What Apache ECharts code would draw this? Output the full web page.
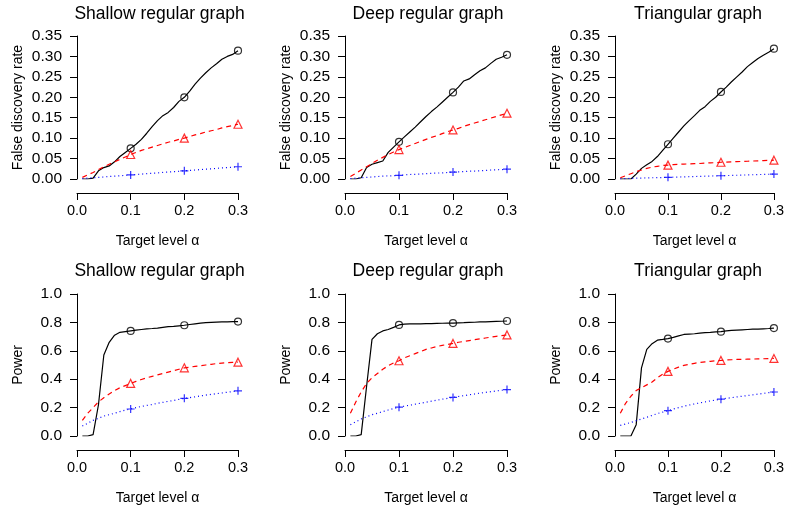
<!DOCTYPE html>
<html>
<head>
<meta charset="utf-8">
<script src="https://cdn.jsdelivr.net/npm/echarts@6/dist/echarts.min.js"></script>
<style>html,body{margin:0;padding:0;background:#fff}#c{width:787px;height:513px}</style>
</head>
<body>
<div id="c"></div>
<script>
// Target level alpha
const alpha = [0.01,0.02,0.03,0.04,0.05,0.06,0.07,0.08,0.09,0.10,0.11,0.12,0.13,0.14,0.15,0.16,0.17,0.18,0.19,0.20,0.21,0.22,0.23,0.24,0.25,0.26,0.27,0.28,0.29,0.30];
const markedAlpha = [0.1, 0.2, 0.3];
const panelTitles = ['Shallow regular graph', 'Deep regular graph', 'Triangular graph'];
const xTicks = [0, 0.1, 0.2, 0.3];

// False discovery rate
const fdrShallowBlack = [0,0,0.002,0.02,0.028,0.032,0.042,0.055,0.065,0.075,0.085,0.097,0.112,0.128,0.143,0.155,0.163,0.175,0.19,0.20,0.215,0.232,0.247,0.26,0.272,0.282,0.293,0.30,0.305,0.314];
const fdrShallowRed = [0.004,0.01,0.016,0.023,0.03,0.036,0.042,0.048,0.054,0.060,0.065,0.07,0.074,0.078,0.082,0.086,0.09,0.093,0.097,0.100,0.104,0.108,0.111,0.115,0.118,0.121,0.125,0.128,0.131,0.134];
const fdrShallowBlue = [0.001,0.002,0.003,0.004,0.005,0.006,0.007,0.008,0.009,0.010,0.011,0.012,0.013,0.014,0.015,0.016,0.017,0.018,0.019,0.020,0.021,0.022,0.023,0.024,0.025,0.026,0.027,0.028,0.029,0.030];

const fdrDeepBlack = [0,0,0.003,0.028,0.036,0.040,0.044,0.065,0.078,0.091,0.103,0.115,0.127,0.14,0.153,0.165,0.176,0.188,0.2,0.212,0.225,0.24,0.245,0.255,0.265,0.272,0.283,0.293,0.298,0.304];
const fdrDeepRed = [0.006,0.014,0.022,0.03,0.038,0.046,0.053,0.06,0.066,0.072,0.077,0.082,0.087,0.092,0.097,0.102,0.106,0.111,0.116,0.120,0.124,0.129,0.133,0.137,0.141,0.145,0.149,0.153,0.157,0.161];
const fdrDeepBlue = [0.001,0.002,0.003,0.004,0.005,0.006,0.007,0.0075,0.008,0.009,0.010,0.011,0.0115,0.012,0.013,0.014,0.0145,0.015,0.016,0.017,0.0175,0.018,0.019,0.0195,0.020,0.021,0.022,0.0225,0.023,0.024];

const fdrTriBlack = [0,0,0,0.012,0.026,0.035,0.043,0.055,0.07,0.085,0.1,0.115,0.13,0.143,0.155,0.168,0.177,0.19,0.2,0.213,0.225,0.238,0.25,0.262,0.275,0.285,0.295,0.303,0.31,0.319];
const fdrTriRed = [0.003,0.008,0.013,0.018,0.022,0.026,0.029,0.031,0.033,0.034,0.035,0.036,0.0365,0.037,0.0375,0.038,0.039,0.0395,0.040,0.041,0.0415,0.042,0.0425,0.043,0.0435,0.044,0.0445,0.045,0.0455,0.046];
const fdrTriBlue = [0.0005,0.001,0.0015,0.002,0.0023,0.0026,0.003,0.0033,0.0036,0.004,0.0044,0.0048,0.0052,0.0056,0.006,0.0064,0.0068,0.0072,0.0076,0.008,0.0084,0.0088,0.0092,0.0096,0.010,0.0104,0.0108,0.0112,0.0116,0.012];

// Power
const powShallowBlack = [0,0,0.01,0.22,0.57,0.66,0.71,0.73,0.735,0.74,0.745,0.75,0.755,0.757,0.76,0.765,0.77,0.772,0.776,0.78,0.785,0.79,0.795,0.798,0.8,0.802,0.803,0.804,0.805,0.806];
const powShallowRed = [0.11,0.16,0.2,0.24,0.27,0.295,0.32,0.34,0.355,0.37,0.385,0.398,0.41,0.42,0.43,0.44,0.45,0.46,0.47,0.48,0.485,0.49,0.495,0.5,0.505,0.51,0.513,0.516,0.518,0.52];
const powShallowBlue = [0.07,0.09,0.11,0.125,0.14,0.15,0.16,0.172,0.182,0.19,0.2,0.208,0.215,0.222,0.23,0.237,0.244,0.25,0.258,0.265,0.27,0.276,0.282,0.288,0.293,0.298,0.303,0.308,0.313,0.318];

const powDeepBlack = [0,0,0.01,0.35,0.68,0.72,0.74,0.75,0.765,0.782,0.788,0.79,0.79,0.79,0.791,0.792,0.793,0.794,0.795,0.795,0.797,0.798,0.8,0.801,0.803,0.804,0.806,0.807,0.808,0.81];
const powDeepRed = [0.16,0.24,0.31,0.37,0.41,0.44,0.47,0.495,0.515,0.53,0.55,0.565,0.58,0.595,0.61,0.62,0.63,0.638,0.645,0.652,0.66,0.666,0.672,0.678,0.684,0.69,0.696,0.702,0.707,0.712];
const powDeepBlue = [0.08,0.1,0.12,0.135,0.15,0.16,0.172,0.183,0.193,0.203,0.21,0.217,0.224,0.231,0.238,0.245,0.252,0.259,0.265,0.272,0.278,0.284,0.29,0.296,0.302,0.307,0.312,0.317,0.322,0.327];

const powTriBlack = [0,0,0,0.08,0.48,0.61,0.65,0.675,0.68,0.686,0.695,0.705,0.715,0.718,0.72,0.725,0.728,0.73,0.733,0.735,0.74,0.744,0.746,0.748,0.75,0.752,0.753,0.755,0.757,0.76];
const powTriRed = [0.16,0.23,0.28,0.32,0.34,0.36,0.38,0.41,0.435,0.455,0.47,0.485,0.497,0.505,0.512,0.518,0.522,0.526,0.53,0.532,0.535,0.537,0.539,0.54,0.541,0.542,0.543,0.544,0.545,0.546];
const powTriBlue = [0.075,0.085,0.095,0.108,0.12,0.132,0.145,0.158,0.168,0.178,0.19,0.2,0.21,0.218,0.226,0.233,0.24,0.247,0.253,0.259,0.265,0.27,0.275,0.28,0.285,0.29,0.295,0.3,0.305,0.31];

const fdrTicks = [0,0.05,0.10,0.15,0.20,0.25,0.30,0.35];
const powTicks = [0,0.2,0.4,0.6,0.8,1.0];

const panels = [
  {title: panelTitles[0], yName: 'False discovery rate', row: 0, s: [fdrShallowBlack, fdrShallowRed, fdrShallowBlue]},
  {title: panelTitles[1], yName: 'False discovery rate', row: 0, s: [fdrDeepBlack, fdrDeepRed, fdrDeepBlue]},
  {title: panelTitles[2], yName: 'False discovery rate', row: 0, s: [fdrTriBlack, fdrTriRed, fdrTriBlue]},
  {title: panelTitles[0], yName: 'Power', row: 1, s: [powShallowBlack, powShallowRed, powShallowBlue]},
  {title: panelTitles[1], yName: 'Power', row: 1, s: [powDeepBlack, powDeepRed, powDeepBlue]},
  {title: panelTitles[2], yName: 'Power', row: 1, s: [powTriBlack, powTriRed, powTriBlue]}
];

const FONT = '"Liberation Sans", Arial, Helvetica, sans-serif';
const lefts = [77, 345, 615];
const widths = [161, 162, 162];
const tops = [36, 294];
const heights = [143, 142];

const styles = [
  {color: '#000000', type: 'solid', symbol: 'circle', size: 7},
  {color: '#ff0000', type: [5, 4], symbol: 'triangle', size: 8},
  {color: '#0000ff', type: [1, 3], symbol: 'path://M5,0 L5,10 M0,5 L10,5', size: 8}
];

const option = {
  animation: false,
  backgroundColor: '#ffffff',
  textStyle: {fontFamily: FONT},
  title: [], grid: [], xAxis: [], yAxis: [], series: []
};

panels.forEach((p, i) => {
  const col = i % 3, row = p.row;
  const isFdr = row === 0;
  option.title.push({
    text: p.title, left: lefts[col] + widths[col] / 2 + 2, top: row === 0 ? 5 : 262,
    textAlign: 'center', padding: 0,
    textStyle: {fontFamily: FONT, fontSize: 17.5, fontWeight: 'normal', color: '#000'}
  });
  option.grid.push({left: lefts[col], top: tops[row], width: widths[col], height: heights[row], containLabel: false});
  option.xAxis.push({
    type: 'value', gridIndex: i, min: 0, max: 0.3, interval: 0.1, offset: 14,
    name: 'Target level α', nameLocation: 'middle', nameGap: 41,
    nameTextStyle: {fontFamily: FONT, fontSize: 14, color: '#000'},
    axisLine: {show: true, onZero: false, lineStyle: {color: '#000', width: 1}},
    axisTick: {show: true, length: 7, lineStyle: {color: '#000', width: 1}},
    axisLabel: {fontFamily: FONT, fontSize: 14.5, color: '#000', margin: 10, formatter: v => v.toFixed(1)},
    splitLine: {show: false}
  });
  option.yAxis.push({
    type: 'value', gridIndex: i, min: 0, max: isFdr ? 0.35 : 1, interval: isFdr ? 0.05 : 0.2,
    name: p.yName, nameLocation: 'middle', nameRotate: 90, nameGap: 52,
    nameTextStyle: {fontFamily: FONT, fontSize: 14, color: '#000'},
    axisLine: {show: true, onZero: false, lineStyle: {color: '#000', width: 1}},
    axisTick: {show: true, length: 7, lineStyle: {color: '#000', width: 1}},
    axisLabel: {fontFamily: FONT, fontSize: 15.5, color: '#000', margin: 15, formatter: v => isFdr ? v.toFixed(2) : v.toFixed(1)},
    splitLine: {show: false}
  });
  p.s.forEach((vals, k) => {
    const st = styles[k];
    const pts = alpha.map((x, j) => [x, vals[j]]);
    option.series.push({
      type: 'line', xAxisIndex: i, yAxisIndex: i, data: pts, symbol: 'none',
      lineStyle: {color: st.color, width: 1.2, type: st.type}, z: 2
    });
    option.series.push({
      type: 'scatter', xAxisIndex: i, yAxisIndex: i,
      data: pts.filter(d => markedAlpha.indexOf(d[0]) >= 0),
      symbol: st.symbol, symbolSize: st.size,
      itemStyle: {color: 'rgba(0,0,0,0)', borderColor: st.color, borderWidth: 1.2}, z: 3
    });
  });
});

const chart = echarts.init(document.getElementById('c'), null, {renderer: 'canvas'});
chart.setOption(option);
</script>
</body>
</html>
